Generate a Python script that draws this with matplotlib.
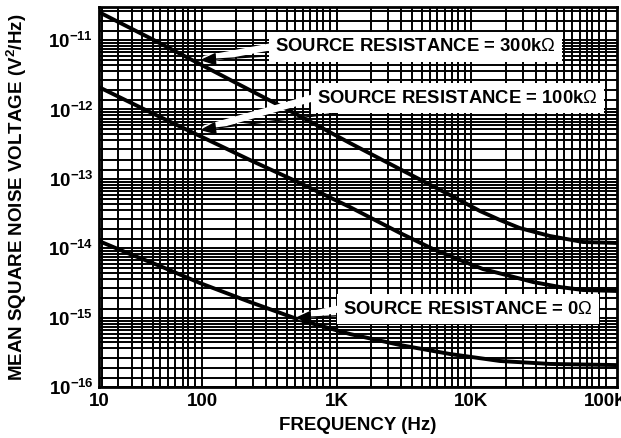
import matplotlib
matplotlib.use('Agg')
import matplotlib.pyplot as plt
from matplotlib.ticker import FixedLocator, NullFormatter

plt.rcParams['font.family'] = ['Liberation Sans', 'DejaVu Sans']
plt.rcParams['mathtext.fontset'] = 'custom'
plt.rcParams['mathtext.rm'] = 'Liberation Sans'
plt.rcParams['mathtext.bf'] = 'Liberation Sans:bold'
plt.rcParams['mathtext.it'] = 'Liberation Sans:italic'

# ---- data ----
freq_300k = [17.2, 41.1, 96.6, 227, 534, 1255, 2951, 6936, 11580, 16310, 22950, 38330, 67380, 120500]
noise_300k = [2.53e-11, 1.07e-11, 4.51e-12, 1.9e-12, 8.03e-13, 3.28e-13, 1.38e-13, 5.84e-14,
              3.44e-14, 2.55e-14, 1.95e-14, 1.5e-14, 1.23e-14, 1.19e-14]

freq_100k = [17.2, 41.1, 96.6, 227, 534, 1255, 2951, 5188, 8231, 12200, 19340, 28670, 45480, 67380, 120500]
noise_100k = [2.1e-12, 9.17e-13, 4.14e-13, 1.87e-13, 8.7e-14, 3.92e-14, 1.66e-14, 9.74e-15,
              6.76e-15, 5.01e-15, 3.98e-15, 3.26e-15, 2.76e-15, 2.5e-15, 2.42e-15]

freq_0 = [17.2, 29.2, 48.8, 96.6, 227, 534, 1255, 2951, 6936, 16310, 38330, 120500]
noise_0 = [1.27e-14, 8.25e-15, 5.54e-15, 3.15e-15, 1.68e-15, 9.23e-16, 5.8e-16, 4.03e-16,
           2.99e-16, 2.37e-16, 2.15e-16, 2.07e-16]

x_tick_values = [17.2, 100, 1e3, 1e4, 1e5]
x_tick_labels = ['10', '100', '1K', '10K', '100K']
y_tick_values = [1e-16, 1e-15, 1e-14, 1e-13, 1e-12, 1e-11]
y_tick_labels = [r'$\mathbf{10^{-16}}$', r'$\mathbf{10^{-15}}$', r'$\mathbf{10^{-14}}$',
                 r'$\mathbf{10^{-13}}$', r'$\mathbf{10^{-12}}$', r'$\mathbf{10^{-11}}$']

labels = ['SOURCE RESISTANCE = 300k$\\Omega$',
          'SOURCE RESISTANCE = 100k$\\Omega$',
          'SOURCE RESISTANCE = 0$\\Omega$']

x_grid_mult = [1.8, 2.4, 3.0, 3.6, 4.3, 4.9, 5.6, 6.35, 7.2, 7.9, 8.9, 10]
y_grid_mult = [1.35, 1.9, 2.65, 3.6, 4.4, 5.15, 5.9, 6.7, 7.4, 8.2, 9.05, 10]

xlim = (17.2, 120500)
ylim = (1e-16, 3.0e-11)

fig = plt.figure(figsize=(6.21, 4.38), dpi=100)
ax = fig.add_axes([99 / 621, 51 / 438, 518 / 621, 380 / 438])
ax.set_xscale('log')
ax.set_yscale('log')
ax.set_xlim(*xlim)
ax.set_ylim(*ylim)

xg = [m * 10 ** d for d in range(0, 6) for m in x_grid_mult]
yg = [m * 10.0 ** d for d in range(-17, -10) for m in y_grid_mult]
ax.xaxis.set_minor_locator(FixedLocator(xg))
ax.yaxis.set_minor_locator(FixedLocator(yg))
ax.xaxis.set_minor_formatter(NullFormatter())
ax.yaxis.set_minor_formatter(NullFormatter())
ax.set_xticks(x_tick_values)
ax.set_xticklabels(x_tick_labels)
ax.set_yticks(y_tick_values)
ax.set_yticklabels(y_tick_labels)
ax.grid(True, which='both', color='black', lw=1.4)
ax.tick_params(which='both', length=0, labelsize=13.5, pad=4)
for t in ax.get_xticklabels():
    t.set_fontweight('bold')
for s in ax.spines.values():
    s.set_linewidth(2.0)
ax.set_axisbelow(True)

for fx, ny in [(freq_300k, noise_300k), (freq_100k, noise_100k), (freq_0, noise_0)]:
    ax.plot(fx, ny, color='black', lw=2.8, solid_joinstyle='round', zorder=3)

ann = [
    (labels[0], (96.6, 5.15e-12), (0.340, 0.895)),
    (labels[1], (96.6, 5.05e-13), (0.421, 0.760)),
    (labels[2], (490, 9.9e-16), (0.471, 0.205)),
]
for txt, tip, pos in ann:
    # white halo along the arrow shaft
    ax.annotate('', xy=tip, xycoords='data', xytext=(pos[0] - 0.01, pos[1]), textcoords='axes fraction',
                zorder=4,
                arrowprops=dict(arrowstyle='-', color='white', lw=5, shrinkA=0, shrinkB=4))
    ax.annotate(txt, xy=tip, xycoords='data', xytext=pos, textcoords='axes fraction',
                ha='left', va='center', fontsize=13.3, fontweight='bold', zorder=5,
                bbox=dict(boxstyle='square,pad=0.35', fc='white', ec='none'),
                arrowprops=dict(arrowstyle='-|>,head_length=0.7,head_width=0.28', color='black',
                                lw=1.0, mutation_scale=14, shrinkA=0, shrinkB=0))

ax.set_xlabel('FREQUENCY (Hz)', fontsize=13.5, fontweight='bold', labelpad=5)
ax.set_ylabel('MEAN SQUARE NOISE VOLTAGE (V$^\\mathbf{2}$/Hz)', fontsize=13.5, fontweight='bold', labelpad=14)

fig.savefig('out.png', dpi=100)
